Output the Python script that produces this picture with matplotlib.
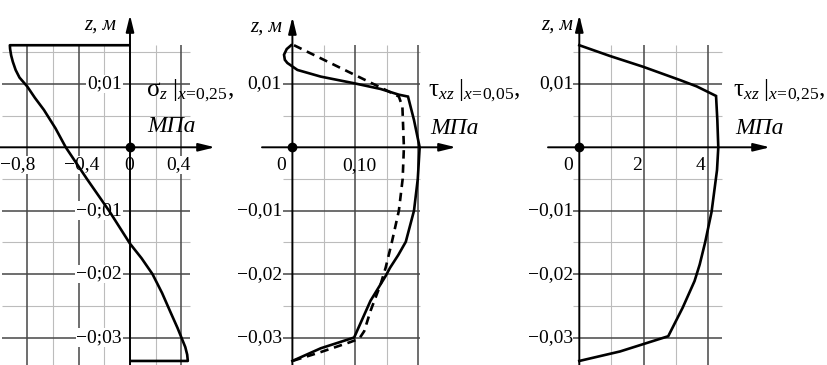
import matplotlib
matplotlib.use("Agg")
import matplotlib.pyplot as plt

plt.rcParams["font.family"] = ["Liberation Serif", "DejaVu Serif"]
plt.rcParams["mathtext.fontset"] = "custom"
plt.rcParams["mathtext.rm"] = "Liberation Serif"
plt.rcParams["mathtext.it"] = "Liberation Serif:italic"
plt.rcParams["mathtext.bf"] = "Liberation Serif:bold"

# ---------------------------------------------------------------- data
# plate faces (z, m)
Z_TOP = 0.0161
Z_BOT = -0.0337

# normal stress sigma_z at x = 0.25 (MPa) versus z (m)
sigma_z = [Z_TOP, Z_TOP, 0.0155, 0.0145, 0.0135, 0.0122, 0.0110, 0.0096, 0.0078,
           0.0059, 0.0030, 0.0, -0.005, -0.0101, -0.0152, -0.0175, -0.020,
           -0.023, -0.026, -0.0285, -0.030, -0.0315, -0.0327, Z_BOT, Z_BOT]
sigma_val = [0.0, -0.935, -0.933, -0.925, -0.912, -0.89, -0.86, -0.80, -0.74,
             -0.67, -0.58, -0.50, -0.335, -0.16, 0.0, 0.09, 0.175,
             0.25, 0.315, 0.37, 0.40, 0.43, 0.445, 0.45, 0.0]

# shear stress tau_xz at x = 0.05 (MPa), two solutions
tau05_z = [Z_TOP, 0.0155, 0.0146, 0.0138, 0.0133, 0.0122, 0.01115, 0.0101,
           0.0092, 0.0083, 0.0080, 0.0043, 0.0, -0.005, -0.0100, -0.0149,
           -0.017, -0.019, -0.0203, -0.0242, -0.0300, -0.0317, Z_BOT]
tau05_val = [-0.002, -0.009, -0.0133, -0.012, -0.008, 0.008, 0.045, 0.098,
             0.140, 0.169, 0.1835, 0.193, 0.202, 0.199, 0.193, 0.180,
             0.168, 0.155, 0.148, 0.124, 0.098, 0.045, 0.0]

tau05b_z = [Z_TOP, 0.0088, 0.0080, 0.0064, 0.0, -0.005, -0.010, -0.0149,
            -0.019, -0.0216, -0.0258, -0.029, -0.0302, -0.0307, -0.0323, Z_BOT]
tau05b_val = [0.0025, 0.153, 0.169, 0.1746, 0.177, 0.175, 0.169, 0.158,
              0.148, 0.140, 0.124, 0.114, 0.106, 0.0926, 0.045, 0.0]

# shear stress tau_xz at x = 0.25 (MPa)
tau25_z = [Z_TOP, 0.0144, 0.0127, 0.0106, 0.0096, 0.0087, 0.0081, 0.0043,
           0.0, -0.0036, -0.0102, -0.015, -0.0185, -0.0211, -0.0253,
           -0.0298, -0.0322, Z_BOT]
tau25_val = [0.0, 0.956, 1.99, 3.14, 3.66, 4.02, 4.26, 4.30,
             4.33, 4.29, 4.12, 3.92, 3.75, 3.59, 3.22,
             2.77, 1.27, 0.0]

# grid / tick values
z_major = [0.01, -0.01, -0.02, -0.03]
z_minor = [0.015, 0.005, -0.005, -0.015, -0.025]
z_labels_p1 = ["0;01", "−0;01", "−0;02", "−0;03"]
z_labels = ["0,01", "−0,01", "−0,02", "−0,03"]

s_major = [-0.8, -0.4, 0.4]
s_minor = [-0.6, -0.2, 0.2]
s_ticklabels = ["−0,8", "−0,4", "0", "0,4"]

t05_major = [0.10, 0.20]
t05_minor = [0.05, 0.15]
t05_ticklabels = ["0", "0,10"]

t25_major = [2, 4]
t25_minor = [1, 3]
t25_ticklabels = ["0", "2", "4"]

# ---------------------------------------------------------------- layout
W, H = 828, 365
Z0_PX = 147.3          # pixel row of z = 0
Z_SCALE = 6340.0       # pixels per metre

LIGHT = "#bcbcbc"
DARK = "#474747"
LW_CURVE = 1.9

fig = plt.figure(figsize=(W / 100, H / 100), dpi=100)
fig.patch.set_facecolor("white")


class Panel:
    def __init__(self, x0_px, x_scale):
        self.x0 = x0_px
        self.sx = x_scale
        ax = fig.add_axes([0, 0, 1, 1])
        ax.set_xlim(-x0_px / x_scale, (W - x0_px) / x_scale)
        ax.set_ylim(-(H - Z0_PX) / Z_SCALE, Z0_PX / Z_SCALE)
        ax.axis("off")
        ax.patch.set_alpha(0)
        self.ax = ax

    def x(self, px):
        return (px - self.x0) / self.sx

    def z(self, py):
        return (Z0_PX - py) / Z_SCALE

    def grid(self, xs_major, xs_minor, px_left, px_right):
        ax = self.ax
        zb = self.z(H + 2)
        ax.vlines(xs_minor, zb, Z_TOP, colors=LIGHT, lw=0.8, zorder=1)
        ax.vlines(xs_major, zb, Z_TOP, colors=DARK, lw=1.1, zorder=1.2)
        ax.hlines(z_minor, self.x(px_left), self.x(px_right), colors=LIGHT, lw=0.8, zorder=1)
        ax.hlines(z_major, self.x(px_left), self.x(px_right), colors=DARK, lw=1.1, zorder=1.2)

    def axes_arrows(self, px_left, px_tip, py_tip):
        ax = self.ax
        style = dict(arrowstyle="-|>,head_length=0.9,head_width=0.22",
                     color="black", lw=1.4, mutation_scale=11,
                     shrinkA=0, shrinkB=0)
        ax.annotate("", xy=(0, self.z(py_tip)), xytext=(0, self.z(H + 2)),
                    arrowprops=style, zorder=3)
        ax.annotate("", xy=(self.x(px_tip), 0), xytext=(self.x(px_left), 0),
                    arrowprops=style, zorder=3)
        ax.plot([0], [0], "o", color="black", ms=6, zorder=5)


TICK_FS = 14

# ---------------------------------------------------------------- panel 1
p1 = Panel(130.0, 128.5)
a1 = p1.ax
p1.grid(s_major, s_minor, 2, 190)
p1.axes_arrows(0, 215, 15)
box = dict(facecolor="white", edgecolor="none", pad=0.6)
for zv, lab in zip(z_major, z_labels_p1):
    a1.text(p1.x(122), zv, lab, ha="right", va="center", fontsize=TICK_FS,
            bbox=box, zorder=2)
for px, lab in zip([17.5, 82, 129, 178], s_ticklabels):
    a1.text(p1.x(px), p1.z(165), lab, ha="center", va="center",
            fontsize=TICK_FS, bbox=box, zorder=2)
a1.plot(sigma_val, sigma_z, color="black", lw=LW_CURVE, zorder=4,
        solid_joinstyle="round", solid_capstyle="butt")
a1.text(p1.x(116), p1.z(25), "z, м", ha="right", va="center",
        fontsize=15, style="italic")
a1.text(p1.x(146), p1.z(91), r"$\mathrm{\sigma}_{z}\;|_{x\!=\!0{,}25}$,",
        ha="left", va="center", fontsize=18)
a1.text(p1.x(147), p1.z(127), "МПа", ha="left", va="center",
        fontsize=17, style="italic")

# ---------------------------------------------------------------- panel 2
p2 = Panel(292.4, 630.0)
a2 = p2.ax
p2.grid(t05_major, t05_minor, 283, 420)
p2.axes_arrows(262, 456, 17)
for zv, lab in zip(z_major, z_labels):
    a2.text(p2.x(282), zv, lab, ha="right", va="center", fontsize=TICK_FS)
for px, lab in zip([281, 359], t05_ticklabels):
    a2.text(p2.x(px), p2.z(166), lab, ha="center", va="center", fontsize=TICK_FS)
a2.plot(tau05b_val, tau05b_z, color="black", lw=LW_CURVE, zorder=4,
        dashes=(3.2, 2.2))
a2.plot(tau05_val, tau05_z, color="black", lw=LW_CURVE, zorder=4,
        solid_joinstyle="miter")
a2.text(p2.x(282), p2.z(27), "z, м", ha="right", va="center",
        fontsize=15, style="italic")
a2.text(p2.x(428), p2.z(91), r"$\mathrm{\tau}_{xz}\;|_{x\!=\!0{,}05}$,",
        ha="left", va="center", fontsize=18)
a2.text(p2.x(430), p2.z(128), "МПа", ha="left", va="center",
        fontsize=17, style="italic")

# ---------------------------------------------------------------- panel 3
p3 = Panel(579.3, 32.1)
a3 = p3.ax
p3.grid(t25_major, t25_minor, 573, 722)
p3.axes_arrows(548, 770, 15)
for zv, lab in zip(z_major, z_labels):
    a3.text(p3.x(573), zv, lab, ha="right", va="center", fontsize=TICK_FS)
for px, lab in zip([568, 637, 701], t25_ticklabels):
    a3.text(p3.x(px), p3.z(166), lab, ha="center", va="center", fontsize=TICK_FS)
a3.plot(tau25_val, tau25_z, color="black", lw=LW_CURVE, zorder=4,
        solid_joinstyle="miter")
a3.text(p3.x(573), p3.z(25), "z, м", ha="right", va="center",
        fontsize=15, style="italic")
a3.text(p3.x(733), p3.z(91), r"$\mathrm{\tau}_{xz}\;|_{x\!=\!0{,}25}$,",
        ha="left", va="center", fontsize=18)
a3.text(p3.x(735), p3.z(128), "МПа", ha="left", va="center",
        fontsize=17, style="italic")

fig.savefig("out.png", dpi=100, facecolor="white")
